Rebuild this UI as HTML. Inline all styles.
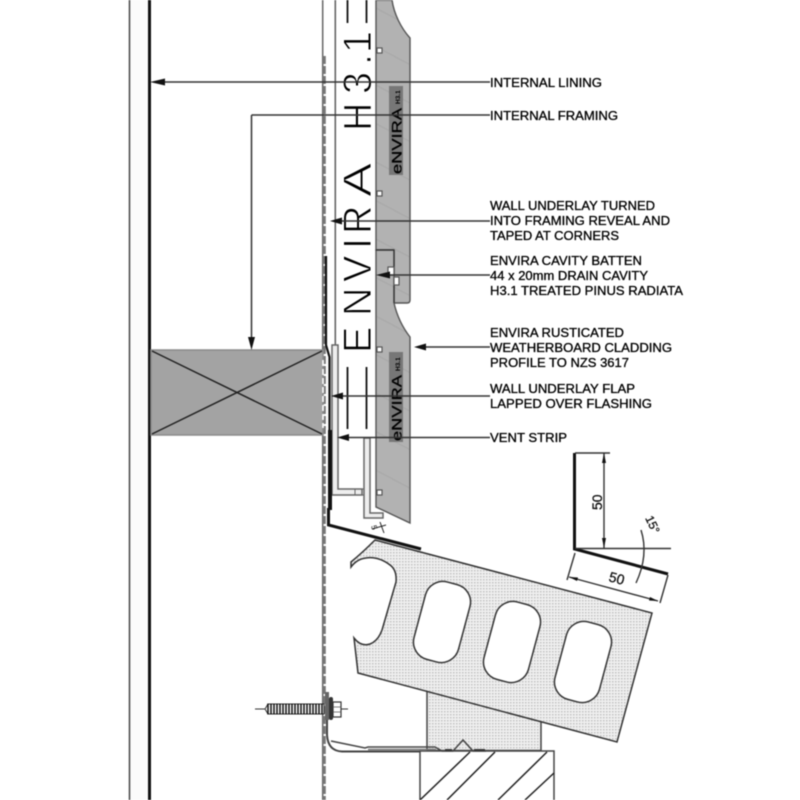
<!DOCTYPE html>
<html><head><meta charset="utf-8"><style>
html,body{margin:0;padding:0;background:#fff}
svg{display:block;filter:blur(.45px)}
text{font-family:"Liberation Sans",sans-serif}
.l{font-size:12.6px;fill:#000;stroke:#000;stroke-width:.3px}
</style></head><body>
<svg width="800" height="800" viewBox="0 0 800 800" xmlns="http://www.w3.org/2000/svg">
<defs>
<pattern id="st" width="3" height="3" patternUnits="userSpaceOnUse"><rect width="3" height="3" fill="#f0f0f0"/><rect width="1.5" height="1.5" fill="#c2c2c2"/></pattern>
<pattern id="ha" width="34" height="34" patternUnits="userSpaceOnUse" patternTransform="rotate(28)"><rect width="34" height="34" fill="#b2b2b2"/><rect y="0" width="34" height="1.2" fill="#a8a8a8"/></pattern>
</defs>
<rect width="800" height="800" fill="#fff"/>

<!-- left lining -->
<rect x="130" y="0" width="18" height="800" fill="#fbfbfb"/>
<path d="M129.500 0V800" stroke="#444" stroke-width="1.500"/>
<path d="M149.500 0V800" stroke="#111" stroke-width="3"/>

<!-- wall lines -->
<path d="M322.700 0V350M322.700 435V800" stroke="#666" stroke-width="1.500"/>
<path d="M335.300 0V345" stroke="#666" stroke-width="1.600"/>
<path d="M324.300 56V800" stroke="#777" stroke-width="3" stroke-dasharray="8 2"/>

<!-- framing -->
<rect x="151" y="350" width="172" height="85" fill="#a3a3a3" stroke="#8a8a8a" stroke-width="1.500"/>
<path d="M152 351L322 434M152 434L322 351" stroke="#222" stroke-width="1.500"/>
<path d="M323 360V428" stroke="#fff" stroke-width="1.600" stroke-dasharray="6 3"/>

<!-- cladding -->
<path d="M376 0H392C394 14 401 28 410 38V300Q410 303 407 303H394V250H376Z" fill="url(#ha)" stroke="#555" stroke-width="1.400"/>
<path d="M376 250H394V303C397 316 403 328 410 337V523L376 507Z" fill="url(#ha)" stroke="#555" stroke-width="1.400"/>
<path d="M394 250V267M394 285V303" stroke="#333" stroke-width="1.200"/>
<path d="M376 250H394" stroke="#333" stroke-width="1.200"/>
<g fill="#fff" stroke="#555" stroke-width="1.200">
<rect x="377" y="48" width="5" height="5"/><rect x="377" y="191" width="5" height="5"/>
<rect x="377" y="347" width="5" height="5"/><rect x="377" y="490" width="5" height="5"/>
<rect x="388" y="267" width="6" height="8"/><rect x="394" y="277" width="5" height="8"/>
</g>

<!-- batten strips -->
<path d="M332 345H338V489H362V495H332Z" fill="#eee" stroke="#666" stroke-width="1.500"/>
<path d="M355 489V495" stroke="#666"/>
<path d="M364 438H370V513H383V518H364Z" fill="#eee" stroke="#666" stroke-width="1.500"/>
<path d="M362 489H364M362 495H364" stroke="#666"/>

<!-- large lettering -->
<g transform="translate(371,350) rotate(-90)" font-size="39.500" fill="#000" stroke="#fff" stroke-width="1">
<text x="-3" y="0">E</text><text x="34" y="0">N</text><text x="68" y="0">V</text><text x="101" y="0">I</text><text x="116" y="0">R</text><text transform="translate(153,0) scale(1.300,1)" x="0" y="0">A</text><text x="219" y="0">H</text><text x="256" y="0">3</text><text x="285" y="0">.</text><text x="297" y="0">1</text>
</g>
<path d="M347.500 0V23M366.500 0V23M347.500 367V429M366.500 367V429" stroke="#111" stroke-width="1.800"/>

<!-- logos -->
<rect x="389" y="86" width="14" height="89" fill="#777"/>
<rect x="389" y="352" width="14" height="90" fill="#777"/>
<g fill="#000">
<text transform="translate(401.500,174) rotate(-90)" font-size="14" textLength="66" lengthAdjust="spacingAndGlyphs" stroke="#000" stroke-width=".3">eNVIRA</text>
<text transform="translate(400,104) rotate(-90)" font-size="6.500" font-weight="bold">H3.1</text>
<text transform="translate(401.500,441) rotate(-90)" font-size="14" textLength="66" lengthAdjust="spacingAndGlyphs" stroke="#000" stroke-width=".3">eNVIRA</text>
<text transform="translate(400,371) rotate(-90)" font-size="6.500" font-weight="bold">H3.1</text>
</g>

<!-- flashing -->
<path d="M326 256V345L329.500 357V510" fill="none" stroke="#111" stroke-width="2.200"/>
<path d="M330 430V510" stroke="#111" stroke-width="4"/>
<path d="M328.500 508V525L421 549" fill="none" stroke="#111" stroke-width="3"/>

<!-- 5 dim -->
<path d="M380 522L384 533M372 529L386 525" stroke="#222" stroke-width="1"/>
<text transform="translate(371,526) rotate(75)" font-size="8" fill="#222">5</text>

<!-- leaders -->
<g stroke="#333" stroke-width="1.500" fill="none">
<path d="M163 82H490" /><path d="M251.500 115H490M251.500 115V337"/>
<path d="M342 221H490"/><path d="M388 275H490"/><path d="M426 347H490"/><path d="M343 396H490"/><path d="M349 437.500H490"/>
</g>
<g fill="#111">
<path d="M150 82L165 78.500V85.500Z"/>
<path d="M251.500 350L248 337H255Z"/>
<path d="M330 221L342 217.500V224.500Z"/>
<path d="M376 275L390 271.500V278.500Z"/>
<path d="M414 347L426 343.500V350.500Z"/>
<path d="M331 396L343 392.500V399.500Z"/>
<path d="M337 437.500L349 434V441Z"/>
</g>

<!-- labels -->
<text class="l" x="490" y="87" textLength="112" lengthAdjust="spacingAndGlyphs">INTERNAL LINING</text>
<text class="l" x="490" y="120" textLength="128" lengthAdjust="spacingAndGlyphs">INTERNAL FRAMING</text>
<text class="l" x="490" y="210" textLength="165" lengthAdjust="spacingAndGlyphs">WALL UNDERLAY TURNED</text>
<text class="l" x="490" y="225" textLength="180" lengthAdjust="spacingAndGlyphs">INTO FRAMING REVEAL AND</text>
<text class="l" x="490" y="240" textLength="129" lengthAdjust="spacingAndGlyphs">TAPED AT CORNERS</text>
<text class="l" x="490" y="265" textLength="152" lengthAdjust="spacingAndGlyphs">ENVIRA CAVITY BATTEN</text>
<text class="l" x="490" y="280" textLength="158" lengthAdjust="spacingAndGlyphs">44 x 20mm DRAIN CAVITY</text>
<text class="l" x="490" y="295" textLength="193" lengthAdjust="spacingAndGlyphs">H3.1 TREATED PINUS RADIATA</text>
<text class="l" x="490" y="337" textLength="134" lengthAdjust="spacingAndGlyphs">ENVIRA RUSTICATED</text>
<text class="l" x="490" y="352" textLength="182" lengthAdjust="spacingAndGlyphs">WEATHERBOARD CLADDING</text>
<text class="l" x="490" y="367" textLength="139" lengthAdjust="spacingAndGlyphs">PROFILE TO NZS 3617</text>
<text class="l" x="490" y="393" textLength="145" lengthAdjust="spacingAndGlyphs">WALL UNDERLAY FLAP</text>
<text class="l" x="490" y="408" textLength="162" lengthAdjust="spacingAndGlyphs">LAPPED OVER FLASHING</text>
<text class="l" x="490" y="442" textLength="77" lengthAdjust="spacingAndGlyphs">VENT STRIP</text>

<!-- dimension L -->
<path d="M574.500 453V549L668 574" fill="none" stroke="#111" stroke-width="3"/>
<g stroke="#333" stroke-width="1.400" fill="none">
<path d="M575 453H610M575 548.500H671M604 453V548"/>
<path d="M575 553L567 580M668 575L660 603M569 577L658 601"/>
<path d="M641 530Q649 555 636 583"/>
</g>
<g fill="#111">
<path d="M604 453L602 463H606Z"/><path d="M604 548L602 538H606Z"/>
<path d="M569 577L578 577.500L577 581Z"/><path d="M658 601L649 600.500L650 597Z"/>
</g>
<g fill="#111" stroke="#111" stroke-width=".3">
<text transform="translate(602,510) rotate(-90)" font-size="14">50</text>
<text transform="translate(608,581) rotate(15)" font-size="14">50</text>
<text transform="translate(645,518) rotate(65)" font-size="12">15°</text>
</g>

<!-- support + timber -->
<path d="M427 690H541V750.500H427Z" fill="url(#st)" stroke="#444" stroke-width="1.500"/>
<rect x="420" y="751" width="134" height="60" fill="#fff" stroke="#444" stroke-width="1.500"/>
<path d="M420 800L470 752M447 800L495 752M498 800L547 752M525 800L554 773" stroke="#222" stroke-width="1.500"/>

<!-- block -->
<path d="M375 540L652 613L617 742L358 673L354 638Q361 647 370 644Q378 641 382 630L396 582Q397 570 390 565Q378 556 366 558Q357 559 351 567L351 562Q362 553 375 540Z" fill="url(#st)" stroke="#333" stroke-width="1.500"/>
<g fill="#fff" stroke="#333" stroke-width="1.500">
<rect x="419" y="582" width="46" height="80" rx="18" transform="rotate(15 442 622)"/>
<rect x="489" y="602" width="46" height="80" rx="18" transform="rotate(15 512 642)"/>
<rect x="560" y="622" width="46" height="80" rx="18" transform="rotate(15 583 662)"/>
</g>

<!-- Z flashing -->
<path d="M327 720V735Q328 751 342 751.500H420" fill="none" stroke="#444" stroke-width="2"/>
<path d="M331 741L365 748L368 747H435L442 751H453L463 740L473 751H486" fill="none" stroke="#444" stroke-width="1.500"/>
<path d="M368 749.500H436" stroke="#777" stroke-width="1.500"/>
<path d="M445 750H452M474 750H485" stroke="#333" stroke-width="2"/>

<!-- screw -->
<path d="M255 709H265M333 709H348" stroke="#333" stroke-width="1"/>
<path d="M265 709L268 704H324V714H268Z" fill="#fff" stroke="#333" stroke-width="1"/>
<path d="M268 703.500V714.500M271 703.500V714.500M274 703.500V714.500M277 703.500V714.500M280 703.500V714.500M283 703.500V714.500M286 703.500V714.500M289 703.500V714.500M292 703.500V714.500M295 703.500V714.500M298 703.500V714.500M301 703.500V714.500M304 703.500V714.500M307 703.500V714.500M310 703.500V714.500M313 703.500V714.500M316 703.500V714.500M319 703.500V714.500M322 703.500V714.500" stroke="#111" stroke-width="1.500"/>
<rect x="325" y="692" width="4" height="28" fill="#666"/>
<rect x="329" y="697" width="4" height="23" rx="2" fill="#333"/>
<rect x="333" y="702" width="8" height="15" fill="#fff" stroke="#333" stroke-width="1.200"/>
<path d="M333 707H341M333 712H341" stroke="#555" stroke-width=".8"/>
</svg>
</body></html>
